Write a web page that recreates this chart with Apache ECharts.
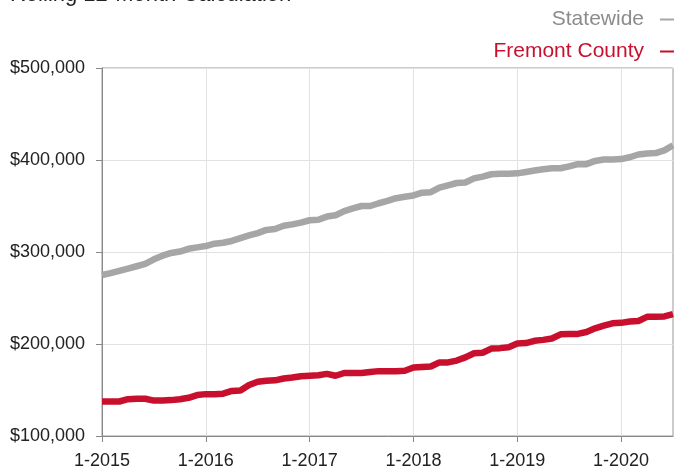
<!DOCTYPE html>
<html><head><meta charset="utf-8">
<script src="https://cdn.jsdelivr.net/npm/echarts@6/dist/echarts.min.js"></script>
<style>html,body{margin:0;padding:0;background:#fff}#c{width:674px;height:470px}</style>
</head><body><div id="c"></div>
<script>
var titleText = 'Rolling 12-Month Calculation';
var years = [2015, 2016, 2017, 2018, 2019, 2020];
var categories = [];
years.forEach(function (y) { for (var m = 1; m <= 12; m++) { if (y === 2020 && m > 7) break; categories.push(m + '-' + y); } });
var statewide = [275000,277000,279500,282000,284500,287000,292000,296000,299000,300500,303500,305000,
  306500,309000,310000,312000,315000,318000,320500,324000,325000,328500,330000,332000,
  334500,335000,338500,340000,344500,347500,350000,350000,353000,355500,358500,360000,
  361500,364500,365000,370000,372500,375000,375500,380000,382000,384500,385000,385000,
  385500,387000,388500,390000,391000,391000,393000,395500,395500,399000,400500,400500,
  401000,403000,406000,407000,407500,410500,416000];
var fremont = [137500,137500,137500,140000,140500,140500,138500,138500,139000,140000,141500,144500,
  145500,145500,146000,149000,149500,155500,159000,160000,160500,162500,163500,165000,
  165500,166000,167500,165500,168500,168500,168500,169500,170500,170500,170500,171000,
  174500,175000,175500,180000,180000,182000,185500,190000,190500,195000,195500,196500,
  200500,201000,203500,204500,206000,210500,211000,211000,213000,217000,220000,222500,
  223000,224500,225000,229500,229500,230000,232500];
var seriesNames = ['Statewide', 'Fremont County'];
var colors = ['#a6a6a6', '#c8102e'];
var legendTextColors = ['#8c8c8c', '#c8102e'];

var chart = echarts.init(document.getElementById('c'));
var font = 'Liberation Sans, Arial, Helvetica, sans-serif';
chart.setOption({
  animation: false,
  title: { text: titleText, left: 10, top: -16, padding: 0, textStyle: { fontFamily: font, fontSize: 22, fontWeight: 'normal', color: '#222' } },
  legend: {
    orient: 'vertical', right: 0, top: 9, align: 'right', itemGap: 11, padding: 0,
    icon: 'rect', itemWidth: 14, itemHeight: 2,
    textStyle: { fontFamily: font, fontSize: 21, padding: [0, 11, 0, 0] },
    data: seriesNames.map(function (n, i) { return { name: n, textStyle: { color: legendTextColors[i] } }; })
  },
  grid: { left: 102, right: 1, top: 68, bottom: 32, show: true, borderColor: '#999', borderWidth: 1, containLabel: false },
  xAxis: {
    type: 'category', data: categories, boundaryGap: false,
    axisLine: { lineStyle: { color: '#888' } },
    axisTick: { show: true, interval: 11, length: 6, lineStyle: { color: '#888' } },
    axisLabel: { interval: 11, color: '#222', fontFamily: font, fontSize: 18, margin: 16 },
    splitLine: { show: true, interval: 11, lineStyle: { color: '#e2e2e2' } }
  },
  yAxis: {
    type: 'value', min: 100000, max: 500000, interval: 100000,
    axisLine: { show: true, lineStyle: { color: '#888' } },
    axisTick: { show: true, length: 6, lineStyle: { color: '#888' } },
    axisLabel: { color: '#222', fontFamily: font, fontSize: 18, margin: 17,
      formatter: function (v) { return '$' + v.toLocaleString('en-US'); } },
    splitLine: { lineStyle: { color: '#e2e2e2' } }
  },
  series: seriesNames.map(function (n, i) {
    return { name: n, type: 'line', data: i === 0 ? statewide : fremont, showSymbol: false, symbol: 'none',
      lineStyle: { color: colors[i], width: 6.5 }, itemStyle: { color: colors[i] } };
  })
});
</script></body></html>
